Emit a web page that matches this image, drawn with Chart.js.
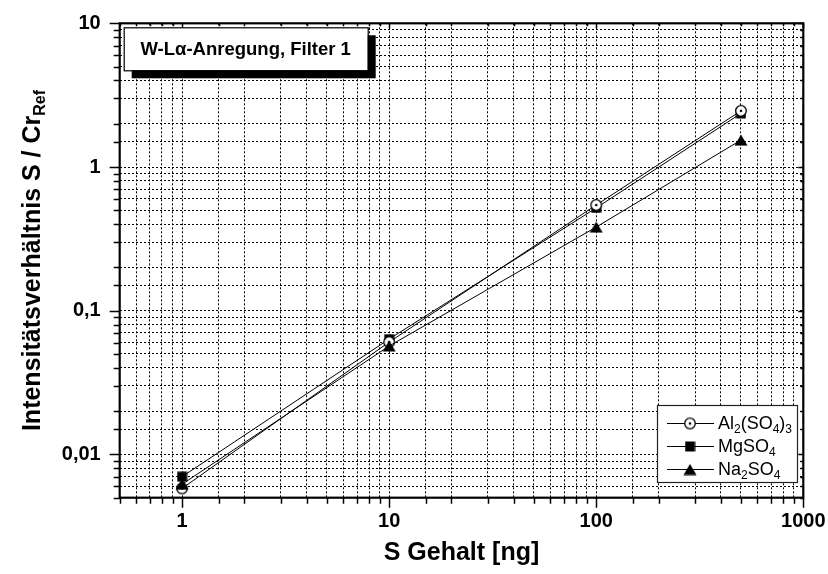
<!DOCTYPE html>
<html>
<head>
<meta charset="utf-8">
<script src="https://cdn.jsdelivr.net/npm/chart.js@4/dist/chart.umd.min.js"></script>
<style>
  html, body { margin: 0; padding: 0; background: #fff; }
  #wrap { width: 828px; height: 574px; }
</style>
</head>
<body>
<div id="wrap"><canvas id="c" width="828" height="574"></canvas></div>
<script>
// S content of the samples [ng]
const sContent = [1, 10, 100, 500];

// Intensity ratio S / Cr_Ref for each compound
const al2so43 = [0.0058, 0.0605, 0.544, 2.46];
const mgso4   = [0.0070, 0.0635, 0.519, 2.36];
const na2so4  = [0.0062, 0.0568, 0.382, 1.54];

// Labelled decades on both axes
const xTickValues = [1, 10, 100, 1000];
const xTickLabels = ['1', '10', '100', '1000'];
const yTickValues = [0.01, 0.1, 1, 10];
const yTickLabels = ['0,01', '0,1', '1', '10'];

const FONT = '"Liberation Sans", Arial, Helvetica, sans-serif';

// ---- marker glyphs ----
function makeCanvas(w, h, draw) {
  const cv = document.createElement('canvas');
  cv.width = w; cv.height = h;
  draw(cv.getContext('2d'));
  return cv;
}
const circleDot = makeCanvas(14, 14, g => {
  g.beginPath(); g.arc(7, 7, 5.3, 0, Math.PI * 2);
  g.fillStyle = '#fff'; g.fill();
  g.lineWidth = 1.3; g.strokeStyle = '#000'; g.stroke();
  g.beginPath(); g.arc(7, 7, 1.3, 0, Math.PI * 2);
  g.fillStyle = '#000'; g.fill();
});
const squareFilled = makeCanvas(11, 11, g => {
  g.fillStyle = '#000'; g.fillRect(0.5, 0.5, 10, 10);
});
const triangleFilled = makeCanvas(14, 12, g => {
  g.beginPath(); g.moveTo(7, 0.5); g.lineTo(13.5, 11.5); g.lineTo(0.5, 11.5); g.closePath();
  g.fillStyle = '#000'; g.fill();
});

function pairs(xs, ys) { return xs.map((x, i) => ({ x, y: ys[i] })); }

const seriesInfo = [
  { label: ['Al', '2', '(SO', '4', ')', '3'], data: al2so43, marker: circleDot, order: 1 },
  { label: ['MgSO', '4'], data: mgso4, marker: squareFilled, order: 2 },
  { label: ['Na', '2', 'SO', '4'], data: na2so4, marker: triangleFilled, order: 0 }
];

const isDecade = v => Math.abs(Math.log10(v) - Math.round(Math.log10(v))) < 1e-6;

// ---- frame, tick marks, boxes and axis titles ----
const decorations = {
  id: 'decorations',
  afterDraw(chart) {
    const { ctx, chartArea: a, scales } = chart;
    ctx.save();

    // tick marks (outside on left/bottom, inside on right/top)
    ctx.strokeStyle = '#000';
    ctx.lineWidth = 1.5;
    ctx.beginPath();
    scales.x.ticks.forEach(t => {
      const px = Math.round(scales.x.getPixelForValue(t.value)) + 0.5;
      const major = isDecade(t.value);
      ctx.moveTo(px, a.bottom); ctx.lineTo(px, a.bottom + (major ? 10 : 6));
      ctx.moveTo(px, a.top); ctx.lineTo(px, a.top + (major ? 5 : 3));
    });
    scales.y.ticks.forEach(t => {
      const py = Math.round(scales.y.getPixelForValue(t.value)) + 0.5;
      const major = isDecade(t.value);
      ctx.moveTo(a.left, py); ctx.lineTo(a.left - (major ? 10 : 6), py);
      ctx.moveTo(a.right, py); ctx.lineTo(a.right - (major ? 5 : 3), py);
    });
    ctx.stroke();

    // plot frame
    ctx.lineWidth = 2.2;
    ctx.strokeRect(a.left, a.top, a.right - a.left, a.bottom - a.top);

    // heading box with drop shadow
    const bx = a.left + 4, by = a.top + 4, bw = 244, bh = 43;
    ctx.fillStyle = '#000';
    ctx.fillRect(bx + 8, by + 8, bw, bh);
    ctx.fillStyle = '#fff';
    ctx.fillRect(bx, by, bw, bh);
    ctx.lineWidth = 1.2;
    ctx.strokeStyle = '#000';
    ctx.strokeRect(bx + 0.5, by + 0.5, bw, bh);
    ctx.fillStyle = '#000';
    ctx.font = 'bold 18.5px ' + FONT;
    ctx.textAlign = 'center';
    ctx.textBaseline = 'alphabetic';
    ctx.fillText('W-Lα-Anregung, Filter 1', bx + bw / 2, by + 28);

    // legend
    const lx = 657, ly = 405, lw = 140, lh = 77;
    ctx.fillStyle = '#fff';
    ctx.fillRect(lx, ly, lw, lh);
    ctx.lineWidth = 1.2;
    ctx.strokeStyle = '#222';
    ctx.strokeRect(lx + 0.5, ly + 0.5, lw, lh);
    const rows = [423, 446, 469];
    seriesInfo.forEach((s, i) => {
      const y = rows[i];
      ctx.strokeStyle = '#000';
      ctx.lineWidth = 1;
      ctx.beginPath();
      ctx.moveTo(667, y + 0.5); ctx.lineTo(714, y + 0.5);
      ctx.stroke();
      ctx.drawImage(s.marker, 690 - s.marker.width / 2, y - s.marker.height / 2 + 0.5);
      let tx = 718;
      ctx.textAlign = 'left';
      ctx.fillStyle = '#000';
      s.label.forEach((part, k) => {
        const sub = k % 2 === 1;
        ctx.font = (sub ? '12px ' : '18px ') + FONT;
        ctx.fillText(part, tx, y + 6 + (sub ? 4 : 0));
        tx += ctx.measureText(part).width;
      });
    });

    // x axis title
    ctx.fillStyle = '#000';
    ctx.font = 'bold 25px ' + FONT;
    ctx.textAlign = 'center';
    ctx.textBaseline = 'middle';
    ctx.fillText('S Gehalt [ng]', (a.left + a.right) / 2, 553);

    // y axis title with subscript
    ctx.save();
    ctx.translate(31, (a.top + a.bottom) / 2);
    ctx.rotate(-Math.PI / 2);
    ctx.textBaseline = 'alphabetic';
    ctx.textAlign = 'left';
    const mainTxt = 'Intensitätsverhältnis S / Cr';
    const subTxt = 'Ref';
    ctx.font = 'bold 25px ' + FONT;
    const mw = ctx.measureText(mainTxt).width;
    ctx.font = 'bold 16px ' + FONT;
    const sw = ctx.measureText(subTxt).width;
    const start = -(mw + sw) / 2;
    ctx.font = 'bold 25px ' + FONT;
    ctx.fillText(mainTxt, start, 9);
    ctx.font = 'bold 16px ' + FONT;
    ctx.fillText(subTxt, start + mw, 14);
    ctx.restore();

    ctx.restore();
  }
};

const gridOpts = { color: '#000', lineWidth: 1, drawTicks: false };

new Chart(document.getElementById('c'), {
  type: 'line',
  data: {
    datasets: seriesInfo.map(s => ({
      data: pairs(sContent, s.data),
      borderColor: '#000',
      borderWidth: 1,
      pointStyle: s.marker,
      pointRadius: 6,
      fill: false,
      tension: 0,
      order: s.order
    }))
  },
  options: {
    responsive: false,
    devicePixelRatio: 1,
    animation: false,
    layout: { padding: { top: 23.3, right: 24.7, left: 0, bottom: 0 } },
    plugins: { legend: { display: false }, tooltip: { enabled: false } },
    scales: {
      x: {
        type: 'logarithmic',
        position: 'bottom',
        min: 0.5,
        max: 1000,
        grid: gridOpts,
        border: { display: false, dash: [2, 2] },
        ticks: {
          autoSkip: false,
          maxRotation: 0,
          padding: 12,
          color: '#000',
          font: { family: FONT, size: 20, weight: 'bold' },
          callback: v => {
            const i = xTickValues.findIndex(t => Math.abs(t - v) / t < 1e-6);
            return i >= 0 ? xTickLabels[i] : '';
          }
        },
        afterFit: s => { s.height = 76.3; s.paddingLeft = 0; s.paddingRight = 0; }
      },
      y: {
        type: 'logarithmic',
        position: 'left',
        min: 0.005,
        max: 10,
        grid: gridOpts,
        border: { display: false, dash: [2, 2] },
        ticks: {
          autoSkip: false,
          padding: 19,
          color: '#000',
          font: { family: FONT, size: 20, weight: 'bold' },
          callback: v => {
            const i = yTickValues.findIndex(t => Math.abs(t - v) / t < 1e-6);
            return i >= 0 ? yTickLabels[i] : '';
          }
        },
        afterFit: s => { s.width = 119.7; s.paddingTop = 0; s.paddingBottom = 0; }
      }
    }
  },
  plugins: [decorations]
});
</script>
</body>
</html>
